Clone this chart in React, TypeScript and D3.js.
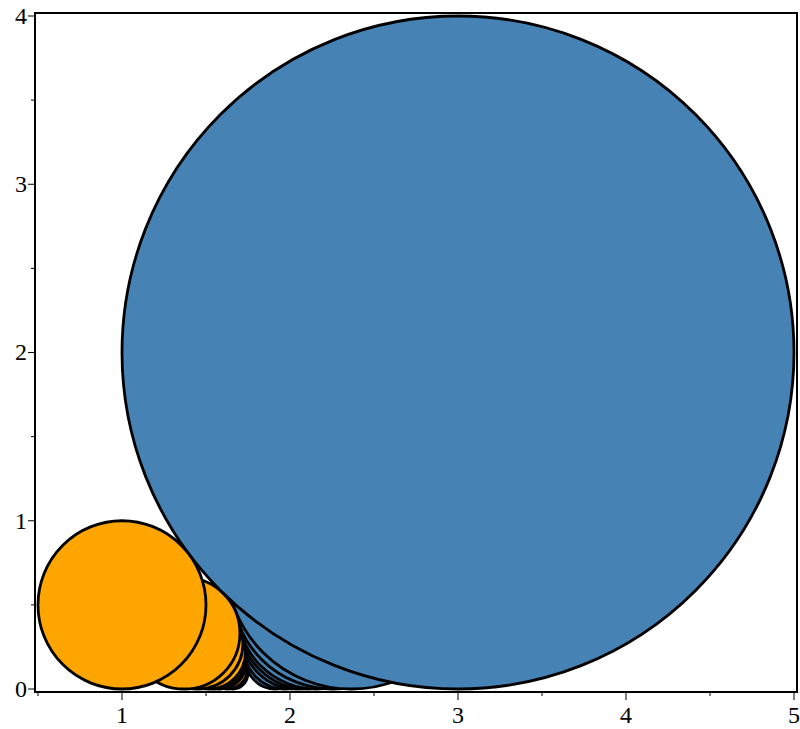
import React from "react";
import * as d3 from "d3";

// Tangent circle pairs resting on the x-axis (centre x, radius)
const orangeX = [1, 1.37, 1.45, 1.515, 1.55, 1.582, 1.627, 1.659];
const orangeR = [0.5, 0.332, 0.27, 0.22, 0.19, 0.16, 0.12, 0.09];
const blueX = [3, 2.365, 2.255, 2.158, 2.101, 2.042, 1.97, 1.914];
const blueR = [2, 0.745, 0.6, 0.47, 0.4, 0.33, 0.245, 0.18];

const xTickLabels = [1, 2, 3, 4, 5];
const yTickLabels = [0, 1, 2, 3, 4];
const xMinor = [0.5, 1.5, 2.5, 3.5, 4.5];
const yMinor = [0.5, 1.5, 2.5, 3.5];

const W = 800;
const H = 729;
const FONT = "Liberation Serif, Times New Roman, serif";

export default function App() {
  const x = d3.scaleLinear().domain([0.5, 5]).range([38, 794]);
  const y = d3.scaleLinear().domain([0, 4]).range([689, 16]);
  const pad = 3;
  const frame = { x0: x(0.5) - pad, x1: x(5) + pad, y0: y(4) - pad, y1: y(0) + pad };

  // smallest pair first so the larger circles sit on top
  const pairs = orangeX.map((_, i) => i).reverse();

  return (
    <svg width={W} height={H} style={{ position: "absolute", left: 0, top: 0 }}>
      <rect width={W} height={H} fill="#fff" />
      <g stroke="#000" strokeWidth={2.8}>
        {pairs.map((i) => (
          <g key={i}>
            <ellipse
              cx={x(blueX[i])}
              cy={y(blueR[i])}
              rx={x(blueR[i]) - x(0)}
              ry={y(0) - y(blueR[i])}
              fill="#4682B4"
            />
            <ellipse
              cx={x(orangeX[i])}
              cy={y(orangeR[i])}
              rx={x(orangeR[i]) - x(0)}
              ry={y(0) - y(orangeR[i])}
              fill="#FFA500"
            />
          </g>
        ))}
      </g>
      <rect
        x={frame.x0}
        y={frame.y0}
        width={frame.x1 - frame.x0}
        height={frame.y1 - frame.y0}
        fill="none"
        stroke="#000"
        strokeWidth={2}
      />
      <g stroke="#000" strokeWidth={1}>
        {xTickLabels.map((t) => (
          <line key={"xM" + t} x1={x(t)} x2={x(t)} y1={frame.y1} y2={frame.y1 + 8} />
        ))}
        {xMinor.map((t) => (
          <line key={"xm" + t} x1={x(t)} x2={x(t)} y1={frame.y1} y2={frame.y1 + 4} />
        ))}
        {yTickLabels.map((t) => (
          <line key={"yM" + t} x1={frame.x0} x2={frame.x0 - 7} y1={y(t)} y2={y(t)} />
        ))}
        {yMinor.map((t) => (
          <line key={"ym" + t} x1={frame.x0} x2={frame.x0 - 4} y1={y(t)} y2={y(t)} />
        ))}
      </g>
      {xTickLabels.map((t) => (
        <text
          key={"xl" + t}
          x={x(t)}
          y={frame.y1 + 31}
          textAnchor="middle"
          fontFamily={FONT}
          fontSize={24}
          fill="#000"
        >
          {t}
        </text>
      ))}
      {yTickLabels.map((t) => (
        <text
          key={"yl" + t}
          x={frame.x0 - 8}
          y={y(t)}
          dy="0.33em"
          textAnchor="end"
          fontFamily={FONT}
          fontSize={24}
          fill="#000"
        >
          {t}
        </text>
      ))}
    </svg>
  );
}
